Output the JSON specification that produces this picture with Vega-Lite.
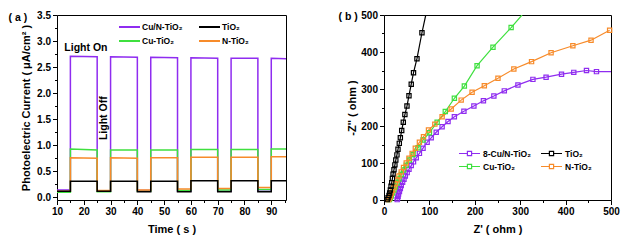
{
  "$schema": "https://vega.github.io/schema/vega-lite/v6.json",
  "background": "white",
  "padding": {"left": 8, "top": 9, "right": 5, "bottom": 5},
  "bounds": "flush",
  "spacing": 98,
  "config": {
    "view": {"stroke": "black", "strokeWidth": 1},
    "font": "Liberation Sans",
    "axis": {"domain": false, "grid": false, "labelOverlap": false, "labelFont": "Liberation Sans", "labelFontWeight": "bold", "labelFontSize": 10, "labelColor": "black", "titleFont": "Liberation Sans", "titleFontWeight": "bold", "titleFontSize": 11, "titleColor": "black", "tickColor": "black", "labelPadding": 2},
    "legend": {"labelFont": "Liberation Sans", "labelFontWeight": "bold", "labelFontSize": 8.5, "labelColor": "black"}
  },
  "resolve": {"scale": {"color": "independent"}},
  "hconcat": [
    {
      "width": 229,
      "height": 185,
      "data": {"values": [
        {"n": 0, "t": 10, "P": 0.14, "G": 0.10, "O": 0.12, "K": 0.12},
        {"n": 1, "t": 15, "P": 0.14, "G": 0.10, "O": 0.12, "K": 0.12},
        {"n": 2, "t": 15, "P": 2.71, "G": 0.93, "O": 0.76, "K": 0.31},
        {"n": 3, "t": 25, "P": 2.70, "G": 0.91, "O": 0.75, "K": 0.31},
        {"n": 4, "t": 25, "P": 0.12, "G": 0.11, "O": 0.13, "K": 0.12},
        {"n": 5, "t": 30, "P": 0.12, "G": 0.11, "O": 0.13, "K": 0.12},
        {"n": 6, "t": 30, "P": 2.70, "G": 0.91, "O": 0.76, "K": 0.31},
        {"n": 7, "t": 40, "P": 2.69, "G": 0.91, "O": 0.75, "K": 0.31},
        {"n": 8, "t": 40, "P": 0.13, "G": 0.12, "O": 0.14, "K": 0.11},
        {"n": 9, "t": 45, "P": 0.13, "G": 0.12, "O": 0.14, "K": 0.11},
        {"n": 10, "t": 45, "P": 2.69, "G": 0.91, "O": 0.76, "K": 0.31},
        {"n": 11, "t": 55, "P": 2.68, "G": 0.91, "O": 0.76, "K": 0.31},
        {"n": 12, "t": 55, "P": 0.12, "G": 0.13, "O": 0.16, "K": 0.11},
        {"n": 13, "t": 60, "P": 0.12, "G": 0.13, "O": 0.16, "K": 0.11},
        {"n": 14, "t": 60, "P": 2.68, "G": 0.92, "O": 0.77, "K": 0.32},
        {"n": 15, "t": 70, "P": 2.67, "G": 0.92, "O": 0.77, "K": 0.32},
        {"n": 16, "t": 70, "P": 0.12, "G": 0.14, "O": 0.17, "K": 0.11},
        {"n": 17, "t": 75, "P": 0.12, "G": 0.14, "O": 0.17, "K": 0.11},
        {"n": 18, "t": 75, "P": 2.67, "G": 0.92, "O": 0.77, "K": 0.32},
        {"n": 19, "t": 85, "P": 2.67, "G": 0.92, "O": 0.77, "K": 0.32},
        {"n": 20, "t": 85, "P": 0.12, "G": 0.15, "O": 0.19, "K": 0.11},
        {"n": 21, "t": 90, "P": 0.12, "G": 0.15, "O": 0.19, "K": 0.11},
        {"n": 22, "t": 90, "P": 2.67, "G": 0.93, "O": 0.78, "K": 0.32},
        {"n": 23, "t": 95.5, "P": 2.66, "G": 0.93, "O": 0.78, "K": 0.32}
      ]},
      "encoding": {
        "x": {"field": "t", "type": "quantitative", "title": "Time ( s )",
          "scale": {"domain": [10, 95.5], "nice": false, "zero": false},
          "axis": {"values": [10, 15, 20, 25, 30, 35, 40, 45, 50, 55, 60, 65, 70, 75, 80, 85, 90, 95],
            "labelExpr": "datum.value % 10 === 0 ? format(datum.value, 'd') : ''",
            "tickSize": {"condition": {"test": "datum.value % 10 !== 0", "value": 2.5}, "value": 4.5},
            "labelFlush": false, "labelOverlap": false, "titlePadding": 7}},
        "y": {"field": "v", "type": "quantitative", "title": "Photoelectric Current ( μA/cm² )",
          "scale": {"domain": [-0.05, 3.5], "nice": false, "zero": false},
          "axis": {"values": [0, 0.25, 0.5, 0.75, 1, 1.25, 1.5, 1.75, 2, 2.25, 2.5, 2.75, 3, 3.25, 3.5],
            "labelExpr": "datum.value % 0.5 === 0 ? format(datum.value, '.1f') : ''",
            "tickSize": {"condition": {"test": "datum.value % 0.5 !== 0", "value": 2.5}, "value": 4.5},
            "labelFlush": false, "labelOverlap": false, "titlePadding": 5}}
      },
      "layer": [
        {
          "transform": [{"fold": ["P", "G", "O", "K"], "as": ["s", "v"]}],
          "mark": {"type": "line", "strokeWidth": 1.5},
          "encoding": {
            "color": {"field": "s", "type": "nominal",
              "scale": {"domain": ["P", "G", "K", "O"], "range": ["#8f2cf0", "#3fe03f", "#000000", "#f78b2a"]},
              "legend": {"orient": "none", "legendX": 64, "legendY": 3.5, "columns": 2, "title": null,
                "symbolType": "M-1.4,0H1.4", "symbolSize": 225, "symbolStrokeWidth": 2, "symbolFillColor": "transparent",
                "rowPadding": 1, "columnPadding": 12, "labelOffset": 4,
                "labelExpr": "{'P': 'Cu/N-TiO₂', 'K': 'TiO₂', 'G': 'Cu-TiO₂', 'O': 'N-TiO₂'}[datum.label]"}},
            "order": {"field": "n", "type": "quantitative"}
          }
        },
        {
          "data": {"values": [
            {"lab": "Light On", "t": 20.8, "v": 2.87},
            {"lab": "( a )", "t": -4.6, "v": 3.44}
          ]},
          "mark": {"type": "text", "font": "Liberation Sans", "fontWeight": "bold", "fontSize": 10.5, "color": "black"},
          "encoding": {"text": {"field": "lab"}}
        },
        {
          "data": {"values": [
            {"lab": "Light Off", "t": 27.5, "v": 1.52}
          ]},
          "mark": {"type": "text", "angle": 270, "font": "Liberation Sans", "fontWeight": "bold", "fontSize": 10.5, "color": "black"},
          "encoding": {"text": {"field": "lab"}}
        }
      ]
    },
    {
      "width": 227,
      "height": 185,
      "data": {"values": [
        {"s": "P", "n": 0, "zr": 29, "zi": 1}, {"s": "P", "n": 1, "zr": 30, "zi": 5}, {"s": "P", "n": 2, "zr": 31, "zi": 10},
        {"s": "P", "n": 3, "zr": 32, "zi": 16}, {"s": "P", "n": 4, "zr": 34, "zi": 23}, {"s": "P", "n": 5, "zr": 36, "zi": 31},
        {"s": "P", "n": 6, "zr": 38, "zi": 39}, {"s": "P", "n": 7, "zr": 41, "zi": 48}, {"s": "P", "n": 8, "zr": 44, "zi": 56},
        {"s": "P", "n": 9, "zr": 47, "zi": 65}, {"s": "P", "n": 10, "zr": 51, "zi": 74}, {"s": "P", "n": 11, "zr": 55, "zi": 83},
        {"s": "P", "n": 12, "zr": 60, "zi": 93}, {"s": "P", "n": 13, "zr": 65, "zi": 103}, {"s": "P", "n": 14, "zr": 71, "zi": 114},
        {"s": "P", "n": 15, "zr": 78, "zi": 126}, {"s": "P", "n": 16, "zr": 86, "zi": 140}, {"s": "P", "n": 17, "zr": 95, "zi": 156},
        {"s": "P", "n": 18, "zr": 104, "zi": 168}, {"s": "P", "n": 19, "zr": 115, "zi": 183}, {"s": "P", "n": 20, "zr": 128, "zi": 198},
        {"s": "P", "n": 21, "zr": 141, "zi": 212}, {"s": "P", "n": 22, "zr": 155, "zi": 225}, {"s": "P", "n": 23, "zr": 176, "zi": 240},
        {"s": "P", "n": 24, "zr": 198, "zi": 254}, {"s": "P", "n": 25, "zr": 219, "zi": 268}, {"s": "P", "n": 26, "zr": 242, "zi": 281},
        {"s": "P", "n": 27, "zr": 265, "zi": 295}, {"s": "P", "n": 28, "zr": 295, "zi": 311}, {"s": "P", "n": 29, "zr": 328, "zi": 326},
        {"s": "P", "n": 30, "zr": 357, "zi": 332}, {"s": "P", "n": 31, "zr": 391, "zi": 340}, {"s": "P", "n": 32, "zr": 418, "zi": 345},
        {"s": "P", "n": 33, "zr": 446, "zi": 350}, {"s": "P", "n": 34, "zr": 468, "zi": 347}, {"s": "P", "n": 35, "zr": 500, "zi": 347},
        {"s": "G", "n": 0, "zr": 12, "zi": 1}, {"s": "G", "n": 1, "zr": 14, "zi": 5}, {"s": "G", "n": 2, "zr": 16, "zi": 11},
        {"s": "G", "n": 3, "zr": 19, "zi": 19}, {"s": "G", "n": 4, "zr": 22, "zi": 27}, {"s": "G", "n": 5, "zr": 25, "zi": 36},
        {"s": "G", "n": 6, "zr": 29, "zi": 46}, {"s": "G", "n": 7, "zr": 33, "zi": 57}, {"s": "G", "n": 8, "zr": 38, "zi": 69},
        {"s": "G", "n": 9, "zr": 43, "zi": 81}, {"s": "G", "n": 10, "zr": 49, "zi": 94}, {"s": "G", "n": 11, "zr": 56, "zi": 108},
        {"s": "G", "n": 12, "zr": 64, "zi": 123}, {"s": "G", "n": 13, "zr": 75, "zi": 141}, {"s": "G", "n": 14, "zr": 86, "zi": 162},
        {"s": "G", "n": 15, "zr": 100, "zi": 182}, {"s": "G", "n": 16, "zr": 117, "zi": 210}, {"s": "G", "n": 17, "zr": 135, "zi": 239},
        {"s": "G", "n": 18, "zr": 155, "zi": 275}, {"s": "G", "n": 19, "zr": 177, "zi": 308}, {"s": "G", "n": 20, "zr": 205, "zi": 363},
        {"s": "G", "n": 21, "zr": 240, "zi": 413}, {"s": "G", "n": 22, "zr": 280, "zi": 466}, {"s": "G", "n": 23, "zr": 304, "zi": 500},
        {"s": "O", "n": 0, "zr": 10, "zi": 1}, {"s": "O", "n": 1, "zr": 12, "zi": 5}, {"s": "O", "n": 2, "zr": 14, "zi": 11},
        {"s": "O", "n": 3, "zr": 16, "zi": 18}, {"s": "O", "n": 4, "zr": 19, "zi": 26}, {"s": "O", "n": 5, "zr": 22, "zi": 35},
        {"s": "O", "n": 6, "zr": 25, "zi": 44}, {"s": "O", "n": 7, "zr": 29, "zi": 54}, {"s": "O", "n": 8, "zr": 33, "zi": 65},
        {"s": "O", "n": 9, "zr": 38, "zi": 76}, {"s": "O", "n": 10, "zr": 43, "zi": 88}, {"s": "O", "n": 11, "zr": 49, "zi": 100},
        {"s": "O", "n": 12, "zr": 55, "zi": 113}, {"s": "O", "n": 13, "zr": 62, "zi": 126}, {"s": "O", "n": 14, "zr": 69, "zi": 140},
        {"s": "O", "n": 15, "zr": 78, "zi": 156}, {"s": "O", "n": 16, "zr": 87, "zi": 171}, {"s": "O", "n": 17, "zr": 98, "zi": 189},
        {"s": "O", "n": 18, "zr": 112, "zi": 205}, {"s": "O", "n": 19, "zr": 128, "zi": 225}, {"s": "O", "n": 20, "zr": 148, "zi": 246},
        {"s": "O", "n": 21, "zr": 170, "zi": 270}, {"s": "O", "n": 22, "zr": 194, "zi": 291}, {"s": "O", "n": 23, "zr": 221, "zi": 309},
        {"s": "O", "n": 24, "zr": 251, "zi": 329}, {"s": "O", "n": 25, "zr": 286, "zi": 354}, {"s": "O", "n": 26, "zr": 325, "zi": 374},
        {"s": "O", "n": 27, "zr": 368, "zi": 398}, {"s": "O", "n": 28, "zr": 416, "zi": 417}, {"s": "O", "n": 29, "zr": 456, "zi": 432},
        {"s": "O", "n": 30, "zr": 497, "zi": 459},
        {"s": "K", "n": 0, "zr": 7, "zi": 1}, {"s": "K", "n": 1, "zr": 9, "zi": 6}, {"s": "K", "n": 2, "zr": 11, "zi": 12},
        {"s": "K", "n": 3, "zr": 12.5, "zi": 19}, {"s": "K", "n": 4, "zr": 14, "zi": 27}, {"s": "K", "n": 5, "zr": 15.5, "zi": 37},
        {"s": "K", "n": 6, "zr": 17, "zi": 47}, {"s": "K", "n": 7, "zr": 18.5, "zi": 58}, {"s": "K", "n": 8, "zr": 20, "zi": 70},
        {"s": "K", "n": 9, "zr": 22, "zi": 82}, {"s": "K", "n": 10, "zr": 24, "zi": 95}, {"s": "K", "n": 11, "zr": 26, "zi": 108},
        {"s": "K", "n": 12, "zr": 28.5, "zi": 122}, {"s": "K", "n": 13, "zr": 30.8, "zi": 137}, {"s": "K", "n": 14, "zr": 33.7, "zi": 153},
        {"s": "K", "n": 15, "zr": 36, "zi": 168}, {"s": "K", "n": 16, "zr": 39, "zi": 188}, {"s": "K", "n": 17, "zr": 42.5, "zi": 210},
        {"s": "K", "n": 18, "zr": 46, "zi": 231}, {"s": "K", "n": 19, "zr": 50.6, "zi": 254}, {"s": "K", "n": 20, "zr": 55, "zi": 282},
        {"s": "K", "n": 21, "zr": 60, "zi": 313}, {"s": "K", "n": 22, "zr": 65, "zi": 344}, {"s": "K", "n": 23, "zr": 72.6, "zi": 382},
        {"s": "K", "n": 24, "zr": 83.6, "zi": 452}, {"s": "K", "n": 25, "zr": 92, "zi": 500}
      ]},
      "encoding": {
        "x": {"field": "zr", "type": "quantitative", "title": "Z' ( ohm )",
          "scale": {"domain": [0, 500], "nice": false},
          "axis": {"values": [0, 50, 100, 150, 200, 250, 300, 350, 400, 450, 500],
            "labelExpr": "datum.value % 100 === 0 ? format(datum.value, 'd') : ''",
            "tickSize": {"condition": {"test": "datum.value % 100 !== 0", "value": 2.5}, "value": 4.5},
            "labelFlush": false, "labelOverlap": false, "titlePadding": 7}},
        "y": {"field": "zi", "type": "quantitative", "title": "-Z'' ( ohm )",
          "scale": {"domain": [0, 500], "nice": false},
          "axis": {"values": [0, 50, 100, 150, 200, 250, 300, 350, 400, 450, 500],
            "labelExpr": "datum.value % 100 === 0 ? format(datum.value, 'd') : ''",
            "tickSize": {"condition": {"test": "datum.value % 100 !== 0", "value": 2.5}, "value": 4.5},
            "labelFlush": false, "labelOverlap": false, "titlePadding": 3}},
        "color": {"field": "s", "type": "nominal",
          "scale": {"domain": ["P", "G", "K", "O"], "range": ["#8f2cf0", "#3fe03f", "#000000", "#f78b2a"]},
          "legend": {"orient": "none", "legendX": 77, "legendY": 130, "columns": 2, "title": null,
            "symbolType": "M-1.4,0H-0.28M0.28,0H1.4M-0.28,-0.28H0.28V0.28H-0.28Z", "symbolSize": 225, "symbolStrokeWidth": 1.2,
            "symbolFillColor": "transparent", "rowPadding": 0, "columnPadding": 6, "labelOffset": 5,
            "labelExpr": "{'P': '8-Cu/N-TiO₂', 'K': 'TiO₂', 'G': 'Cu-TiO₂', 'O': 'N-TiO₂'}[datum.label]"}}
      },
      "layer": [
        {
          "mark": {"type": "line", "strokeWidth": 1.2, "clip": true},
          "encoding": {"order": {"field": "n", "type": "quantitative"}}
        },
        {
          "transform": [{"filter": "datum.zr < 499 && datum.zi < 499"}],
          "mark": {"type": "point", "shape": "square", "filled": false, "size": 18, "strokeWidth": 1.2, "opacity": 1}
        },
        {
          "data": {"values": [{"lab": "( b )", "zr": -79, "zi": 495}]},
          "mark": {"type": "text", "font": "Liberation Sans", "fontWeight": "bold", "fontSize": 10.5, "color": "black"},
          "encoding": {
            "text": {"field": "lab"},
            "color": {"value": "black"}
          }
        }
      ]
    }
  ]
}
